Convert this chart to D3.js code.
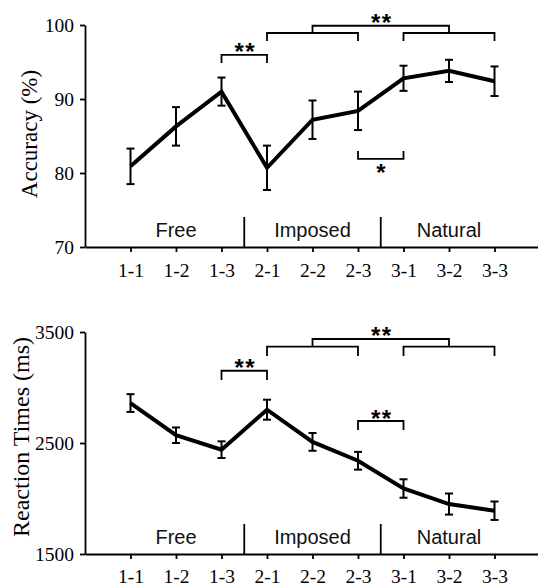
<!DOCTYPE html>
<html>
<head>
<meta charset="utf-8">
<script src="https://cdn.jsdelivr.net/npm/d3@7"></script>
<style>
  html, body { margin: 0; padding: 0; background: #fff; }
  svg { display: block; }
</style>
</head>
<body>
<svg id="chart" width="538" height="586"></svg>
<script>
// ---- data ----
const categories = ["1-1", "1-2", "1-3", "2-1", "2-2", "2-3", "3-1", "3-2", "3-3"];
const groups = ["Free", "Imposed", "Natural"];
const groupCenters = ["1-2", "2-2", "3-2"];
const groupBreaks = [["1-3", "2-1"], ["2-3", "3-1"]];

const accMean = [80.9, 86.3, 91.0, 80.7, 87.2, 88.4, 92.8, 93.8, 92.4];
const accErr  = [2.4, 2.6, 1.9, 3.0, 2.6, 2.6, 1.7, 1.5, 2.0];
const accTicks = [70, 80, 90, 100];
const accDomain = [70, 100];

const rtMean = [2860, 2570, 2440, 2800, 2510, 2340, 2090, 1950, 1890];
const rtErr  = [80, 70, 75, 90, 80, 80, 83, 95, 83];
const rtTicks = [1500, 2500, 3500];
const rtDomain = [1500, 3500];

// significance brackets: from, to, bar level, leg end (data units), label, label side
const accBrackets = [
  { from: "1-3", to: "2-1", y: 95.95, leg: 94.86, label: "**", side: "above" },
  { from: "2-1", to: "2-3", y: 98.92, leg: 97.84, label: "", side: "above" },
  { from: "3-1", to: "3-3", y: 98.92, leg: 97.84, label: "", side: "above" },
  { from: "2-2", to: "3-2", y: 99.9, leg: 98.92, label: "**", side: "above" },
  { from: "2-3", to: "3-1", y: 81.9, leg: 82.97, label: "*", side: "below" }
];
const rtBrackets = [
  { from: "1-3", to: "2-1", y: 3151, leg: 3068, label: "**", side: "above" },
  { from: "2-1", to: "2-3", y: 3368, leg: 3284, label: "", side: "above" },
  { from: "3-1", to: "3-3", y: 3368, leg: 3284, label: "", side: "above" },
  { from: "2-2", to: "3-2", y: 3437, leg: 3368, label: "**", side: "above" },
  { from: "2-3", to: "3-1", y: 2698, leg: 2617, label: "**", side: "above" }
];

// ---- drawing ----
const svg = d3.select("#chart");
const serif = "'Liberation Serif', 'Times New Roman', serif";
const sans = "'Liberation Sans', Arial, sans-serif";

const x = d3.scalePoint().domain(categories).range([85, 540]).padding(1);

function panel(opts) {
  const { mean, err, ticks, domain, top, bottom, ylabel, labelX, labelY, labelSize, brackets, xPad } = opts;
  const y = d3.scaleLinear().domain(domain).range([bottom, top]);
  const g = svg.append("g");

  // y axis
  const ya = g.append("g").attr("transform", "translate(85,0)")
    .call(d3.axisLeft(y).tickValues(ticks).tickSize(5).tickSizeOuter(0).tickPadding(6).tickFormat(d3.format("d")));
  ya.selectAll("text").attr("font-family", serif).attr("font-size", 19.5).attr("fill", "#000");
  ya.selectAll("line, path").attr("stroke", "#000").attr("stroke-width", 1.8);

  // x axis
  const xa = g.append("g").attr("transform", `translate(0,${bottom})`)
    .call(d3.axisBottom(x).tickSize(5).tickSizeOuter(0).tickPadding(xPad));
  xa.selectAll("text").attr("font-family", serif).attr("font-size", 19.5).attr("fill", "#000");
  xa.selectAll("line, path").attr("stroke", "#000").attr("stroke-width", 1.8);

  // y label
  g.append("text")
    .attr("transform", `translate(${labelX},${labelY}) rotate(-90)`)
    .attr("text-anchor", "middle")
    .attr("font-family", serif).attr("font-size", labelSize).attr("fill", "#000")
    .text(ylabel);

  // group separators and labels
  groupBreaks.forEach(([a, b]) => {
    const xm = (x(a) + x(b)) / 2;
    g.append("line").attr("x1", xm).attr("x2", xm).attr("y1", bottom - 30).attr("y2", bottom)
      .attr("stroke", "#000").attr("stroke-width", 1.8);
  });
  groups.forEach((name, i) => {
    g.append("text").attr("x", x(groupCenters[i])).attr("y", bottom - 10)
      .attr("text-anchor", "middle").attr("font-family", sans).attr("font-size", 20).attr("fill", "#111")
      .text(name);
  });

  // error bars
  const eb = g.append("g").attr("stroke", "#000").attr("stroke-width", 2);
  categories.forEach((c, i) => {
    const cx = x(c);
    eb.append("line").attr("x1", cx).attr("x2", cx).attr("y1", y(mean[i] - err[i])).attr("y2", y(mean[i] + err[i]));
    eb.append("line").attr("x1", cx - 4).attr("x2", cx + 4).attr("y1", y(mean[i] + err[i])).attr("y2", y(mean[i] + err[i]));
    eb.append("line").attr("x1", cx - 4).attr("x2", cx + 4).attr("y1", y(mean[i] - err[i])).attr("y2", y(mean[i] - err[i]));
  });

  // mean line
  const line = d3.line().x((d, i) => x(categories[i])).y(d => y(d));
  g.append("path").datum(mean).attr("d", line)
    .attr("fill", "none").attr("stroke", "#000").attr("stroke-width", 4).attr("stroke-linejoin", "miter");

  // brackets
  brackets.forEach(b => {
    const x1 = x(b.from), x2 = x(b.to), yb = y(b.y), yl = y(b.leg);
    g.append("path")
      .attr("d", `M${x1},${yl}V${yb}H${x2}V${yl}`)
      .attr("fill", "none").attr("stroke", "#000").attr("stroke-width", 1.8);
    if (b.label) {
      const ty = b.side === "above" ? yb + 5.5 : yb + 22.5;
      g.append("text").attr("x", (x1 + x2) / 2 + 1).attr("y", ty)
        .attr("text-anchor", "middle").attr("font-family", sans).attr("font-weight", "bold")
        .attr("font-size", 24).attr("letter-spacing", 1.5).attr("fill", "#000")
        .text(b.label);
    }
  });
}

panel({ mean: accMean, err: accErr, ticks: accTicks, domain: accDomain, top: 25, bottom: 247,
  ylabel: "Accuracy (%)", labelX: 37, labelY: 134, labelSize: 23, brackets: accBrackets, xPad: 11 });
panel({ mean: rtMean, err: rtErr, ticks: rtTicks, domain: rtDomain, top: 332, bottom: 554,
  ylabel: "Reaction Times (ms)", labelX: 29, labelY: 437, labelSize: 24, brackets: rtBrackets, xPad: 10.5 });
</script>
</body>
</html>
